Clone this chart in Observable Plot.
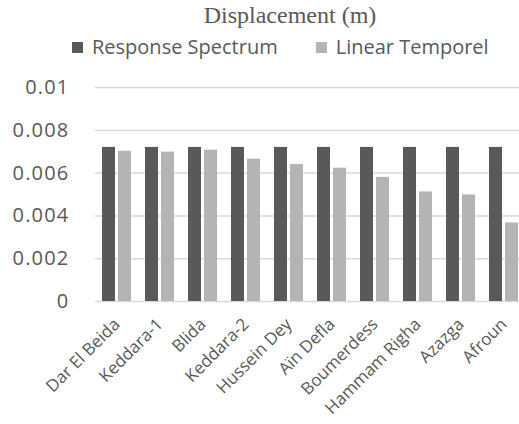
<!DOCTYPE html>
<html><head><meta charset="utf-8">
<script src="https://cdn.jsdelivr.net/npm/d3@7"></script>
<script src="https://cdn.jsdelivr.net/npm/@observablehq/plot@0.6"></script>
<style>
html,body{margin:0;padding:0;background:#fff;overflow:hidden;}
#wrap{position:relative;width:519px;height:424px;}
#title{position:absolute;z-index:2;left:0;top:0;width:580px;text-align:center;font-family:"Liberation Serif",serif;font-size:24px;color:#595959;line-height:30px;}
#legend{position:absolute;z-index:2;top:33px;left:72px;font-family:"Open Sans",sans-serif;font-size:20px;color:#595959;white-space:nowrap;line-height:28px;}
#legend span.item{display:inline-block;margin-right:38px;}
#legend span.sw{display:inline-block;width:11px;height:11px;margin-right:9px;vertical-align:1px;}
#chart{position:absolute;z-index:1;left:0;top:0;}
</style></head>
<body><div id="wrap"><div id="title">Displacement (m)</div><div id="legend"></div><div id="chart"></div></div>
<script>
const categories = ["Dar El Beida","Keddara-1","Blida","Keddara-2","Hussein Dey","Aïn Defla","Boumerdess","Hammam Righa","Azazga","Afroun"];
const series = ["Response Spectrum","Linear Temporel"];
const responseSpectrum = [0.0072,0.0072,0.0072,0.0072,0.0072,0.0072,0.0072,0.0072,0.0072,0.0072];
const linearTemporel = [0.00702,0.00698,0.00707,0.00665,0.0064,0.00623,0.0058,0.00512,0.00498,0.00367];
const yTicks = [0,0.002,0.004,0.006,0.008,0.01];
const colors = ["#595959","#b4b4b4"];

const rows0 = categories.map((c,i)=>({cat:c, s:series[0], v:responseSpectrum[i]}));
const rows1 = categories.map((c,i)=>({cat:c, s:series[1], v:linearTemporel[i]}));

const lg = document.getElementById("legend");
series.forEach((s,i)=>{
  const it = document.createElement("span"); it.className="item";
  const sw = document.createElement("span"); sw.className="sw"; sw.style.background=colors[i];
  it.appendChild(sw); it.appendChild(document.createTextNode(s)); lg.appendChild(it);
});

const shadow = "filter: drop-shadow(0px 0px 2px rgba(0,0,0,0.35))";
const chart = Plot.plot({
  width: 519, height: 424,
  marginLeft: 95, marginRight: -6, marginTop: 87, marginBottom: 123,
  style: {fontFamily: "Open Sans, sans-serif", color: "#595959", background: "transparent", overflow: "visible"},
  x: {domain: categories, paddingInner: 0.32, paddingOuter: 0.16, label: null, tickRotate: -45, tickSize: 0, tickPadding: 20},
  y: {domain: [0, 0.01], ticks: yTicks, tickFormat: d => String(d), label: null, tickSize: 0, tickPadding: 26},
  color: {domain: series, range: colors},
  marks: [
    Plot.ruleY(yTicks, {stroke: "#d9d9d9", strokeWidth: 1.5}),
    Plot.barY(rows0, {x: "cat", y: "v", fill: "s", insetRight: 16, style: shadow}),
    Plot.barY(rows1, {x: "cat", y: "v", fill: "s", insetLeft: 16, style: shadow}),
  ]
});
document.getElementById("chart").appendChild(chart);
chart.querySelectorAll('[aria-label="y-axis tick label"] text').forEach(t=>{t.style.fontSize="20px";t.style.letterSpacing="1.2px";});
chart.querySelectorAll('[aria-label="x-axis tick label"] text').forEach(t=>{t.style.fontSize="17px";});
</script></body></html>
